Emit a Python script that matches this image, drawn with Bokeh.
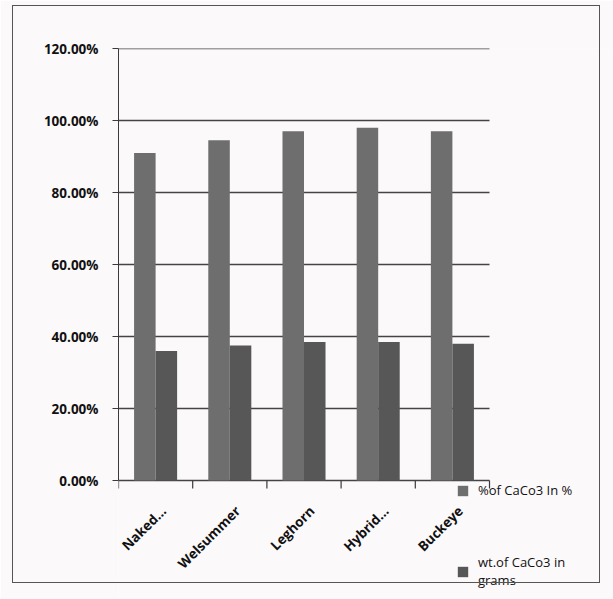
from bokeh.plotting import figure
from bokeh.models import (ColumnDataSource, FixedTicker, Range1d, Legend, LegendItem,
                          NumeralTickFormatter, InlineStyleSheet)
from bokeh.core.properties import value
from bokeh.embed import file_html
from bokeh.resources import INLINE
import math

categories = ["Naked…", "Welsummer", "Leghorn", "Hybrid…", "Buckeye"]
pct_caco3 = [0.91, 0.945, 0.97, 0.98, 0.97]
wt_caco3 = [0.36, 0.375, 0.385, 0.385, 0.38]
series_names = ["%of CaCo3 In %", "wt.of CaCo3 in\ngrams"]
y_ticks = [0, 0.2, 0.4, 0.6, 0.8, 1.0, 1.2]

# layout (pixels)
W, H = 613, 599
LEFT, TOP = 118, 48
AXIS_Y = 480          # pixel row of the 0% line
AXIS_RIGHT = 489      # pixel column where the category axis ends
n = len(categories)
y_max = 1.2
px_per_y = (AXIS_Y - TOP) / y_max
px_per_x = (AXIS_RIGHT - LEFT) / n
y_min = -(H - AXIS_Y) / px_per_y
x_max = (W - LEFT) / px_per_x

centers = [i + 0.5 for i in range(n)]
bounds = list(range(n + 1))
bar_w = 0.29
src = ColumnDataSource(dict(
    x1=[c - bar_w / 2 for c in centers],
    x2=[c + bar_w / 2 for c in centers],
    xc=centers, zero=[0] * n, names=categories,
    pct=pct_caco3, wt=wt_caco3,
))
tick_src = ColumnDataSource(dict(x=bounds, y0=[0] * len(bounds),
                                 y1=[-8 / px_per_y] * len(bounds)))
grid_src = ColumnDataSource(dict(y=y_ticks, x0=[0] * len(y_ticks),
                                 x1=[n] * len(y_ticks)))

FONT = "Open Sans"
BG = "#fcf9fb"
INK = "#111111"
AX = "#3a3a3a"

border_css = InlineStyleSheet(css="""
:host::after {
  content: ''; position: absolute; left: 12px; top: 5px; width: 588px; height: 578px;
  border: 1.2px solid #555555; pointer-events: none; box-sizing: border-box;
  z-index: 100;
}
""")

p = figure(width=W, height=H, output_backend="svg", toolbar_location=None,
           x_range=Range1d(0, x_max), y_range=Range1d(y_min, y_max),
           x_axis_location=None,
           min_border_left=LEFT, min_border_right=0, min_border_top=TOP,
           min_border_bottom=0, background_fill_color=BG, border_fill_color=BG)
p.stylesheets.append(border_css)
p.outline_line_color = None
p.xgrid.grid_line_color = None
p.ygrid.grid_line_color = None

# horizontal gridlines, limited to the category span (0% line = category axis)
p.segment(x0="x0", y0="y", x1="x1", y1="y", source=grid_src, line_color="#444444",
          line_width=1.3)

r1 = p.vbar(x="x1", top="pct", width=bar_w, source=src, fill_color="#6e6e6e",
            line_color=None)
r2 = p.vbar(x="x2", top="wt", width=bar_w, source=src, fill_color="#575757",
            line_color=None)

# y axis
p.yaxis.ticker = FixedTicker(ticks=y_ticks)
p.yaxis.bounds = (0, y_max)
p.yaxis.formatter = NumeralTickFormatter(format="0.00%")
p.yaxis.major_tick_out = 6
p.yaxis.major_tick_in = 0
p.yaxis.minor_tick_line_color = None
p.yaxis.major_label_standoff = 14
p.yaxis.axis_line_color = AX
p.yaxis.major_tick_line_color = AX
p.yaxis.major_label_text_font = FONT
p.yaxis.major_label_text_font_style = "bold"
p.yaxis.major_label_text_font_size = "13.5px"
p.yaxis.major_label_text_color = INK

# category axis ticks at the boundaries between categories
p.segment(x0="x", y0="y0", x1="x", y1="y1", source=tick_src, line_color=AX,
          line_width=1.2)

# rotated category labels
p.text(x="xc", y="zero", text="names", source=src, angle=math.pi / 4,
       text_align="right", text_baseline="middle", x_offset=8, y_offset=28,
       text_font=value(FONT), text_font_style="bold", text_font_size="13.5px",
       text_color=INK)

legend = Legend(items=[LegendItem(label=series_names[0], renderers=[r1]),
                       LegendItem(label=series_names[1], renderers=[r2])],
                location=(338, 10), background_fill_alpha=0, border_line_color=None,
                glyph_width=13, glyph_height=13, spacing=54, padding=0, margin=0,
                label_standoff=9,
                label_text_font=FONT, label_text_font_size="13px",
                label_text_color=INK, label_text_line_height=2.2)
p.add_layout(legend, "center")

open("out.html", "w").write(file_html(p, INLINE))
